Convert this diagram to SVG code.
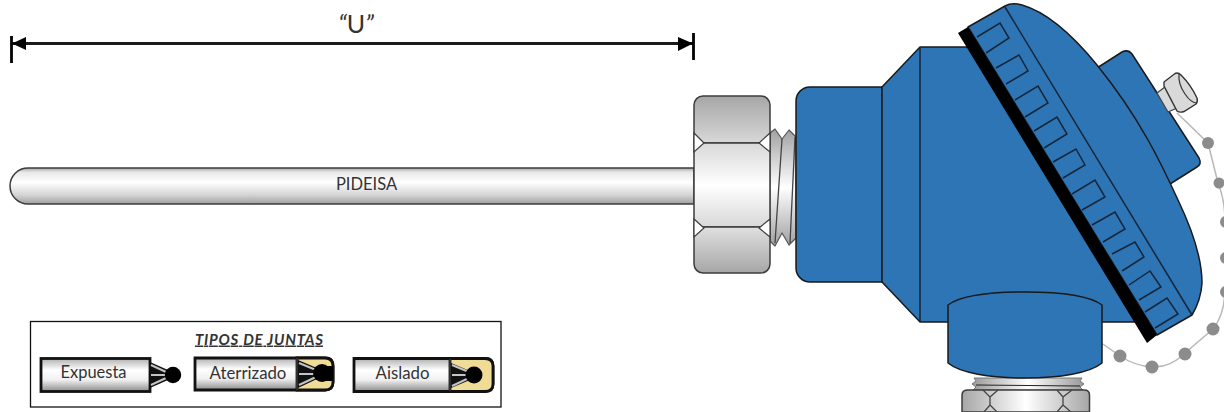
<svg xmlns="http://www.w3.org/2000/svg" width="1224" height="412" viewBox="0 0 1224 412">
<defs>
<linearGradient id="pipe" x1="0" y1="0" x2="0" y2="1"><stop offset="0" stop-color="#a8a8a8"/><stop offset=".12" stop-color="#e8e8e8"/><stop offset=".4" stop-color="#ffffff"/><stop offset=".75" stop-color="#d4d4d4"/><stop offset="1" stop-color="#a0a0a0"/></linearGradient>
<linearGradient id="nutTop" x1="0" y1="0" x2="0" y2="1"><stop offset="0" stop-color="#a6a6a6"/><stop offset="1" stop-color="#d8d8d8"/></linearGradient>
<linearGradient id="nutBot" x1="0" y1="0" x2="0" y2="1"><stop offset="0" stop-color="#e0e0e0"/><stop offset="1" stop-color="#a6a6a6"/></linearGradient>
<linearGradient id="nutMid" x1="0" y1="0" x2="0" y2="1"><stop offset="0" stop-color="#d8d8d8"/><stop offset=".5" stop-color="#ffffff"/><stop offset="1" stop-color="#d8d8d8"/></linearGradient>
<linearGradient id="thread" x1="0" y1="0" x2="0" y2="1"><stop offset="0" stop-color="#a0a0a0"/><stop offset=".5" stop-color="#ffffff"/><stop offset="1" stop-color="#a0a0a0"/></linearGradient>
<linearGradient id="nutH" x1="0" y1="0" x2="1" y2="0"><stop offset="0" stop-color="#a6a6a6"/><stop offset=".5" stop-color="#ffffff"/><stop offset="1" stop-color="#a6a6a6"/></linearGradient>
<linearGradient id="threadH" x1="0" y1="0" x2="1" y2="0"><stop offset="0" stop-color="#999"/><stop offset=".5" stop-color="#fff"/><stop offset="1" stop-color="#999"/></linearGradient>
<linearGradient id="tag" x1="0" y1="0" x2="0" y2="1"><stop offset="0" stop-color="#b0b0b0"/><stop offset=".35" stop-color="#ffffff"/><stop offset=".65" stop-color="#f0f0f0"/><stop offset="1" stop-color="#8c8c8c"/></linearGradient>
</defs>
<style>
.blue{fill:#2e75b6;stroke:#1a1a1a;stroke-width:1.5;stroke-linejoin:round}
.ln{fill:none;stroke:#14263a;stroke-width:1.5}
.sl{stroke:#3c3c3c;stroke-width:1.5;stroke-linejoin:round}
.wh{fill:#fff;stroke:#3c3c3c;stroke-width:1.2}
.t{font-family:Lato,"Open Sans","Liberation Sans",sans-serif;fill:#333}
.tag{stroke:#111;stroke-width:2.8}
.bead{fill:#8c8c8c}
.fan{fill:#111}
.wire{stroke:#c4c4c4;stroke-width:2;fill:none}
</style>
<g id="connectors">
<line x1="12" y1="43.5" x2="693" y2="43.5" stroke="#1a1a1a" stroke-width="3"/>
<line x1="11.5" y1="36" x2="11.5" y2="63" stroke="#000" stroke-width="2.8"/>
<line x1="693.5" y1="33" x2="693.5" y2="60" stroke="#000" stroke-width="2.8"/>
<path d="M12 43.500L26 37V50Z" fill="#000"/>
<path d="M693 43.500L678 37V51Z" fill="#000"/>
<text class="t" x="356" y="33" font-size="25" text-anchor="middle"><tspan font-style="italic">“</tspan>U<tspan font-style="italic">”</tspan></text>
</g>
<g id="probe">
<path d="M694 168H28A18 18 0 0 0 28 204H694Z" fill="url(#pipe)" class="sl"/>
<text class="t" x="366.500" y="190" font-size="16.500" text-anchor="middle">PIDEISA</text>
</g>
<g id="thread-side">
<path d="M770 133L775 129L782 139L789 130L796 137V238L789 245L782 233L775 246L770 241Z" fill="url(#thread)" stroke="#555" stroke-width="1.200" stroke-linejoin="round"/>
<path d="M782 139L775 243M795 137L790 243" fill="none" stroke="#444" stroke-width="1.300"/>
</g>
<g id="hex-nut">
<path d="M703 96H761A9 9 0 0 1 770 105V143H694V105A9 9 0 0 1 703 96Z" fill="url(#nutTop)" class="sl"/>
<rect x="694" y="143" width="76" height="84" fill="url(#nutMid)" class="sl"/>
<path d="M694 227H770V264A9 9 0 0 1 761 273H703A9 9 0 0 1 694 264Z" fill="url(#nutBot)" class="sl"/>
<path class="wh" d="M694 133L704 143L694 152Z"/>
<path class="wh" d="M770 133L759 143L770 152Z"/>
<path class="wh" d="M694 219L704 228L694 237Z"/>
<path class="wh" d="M770 219L759 228L770 237Z"/>
</g>
<g id="chain">
<path d="M1177 113L1208 143L1218 183Q1225 200 1225 222V292Q1224 315 1213 329L1185 353Q1170 368 1152 367Q1135 366 1120 356L1103 344" fill="none" stroke="#b8b8b8" stroke-width="1.500"/>
<circle class="bead" cx="1208" cy="143" r="6"/>
<circle class="bead" cx="1219" cy="183" r="5.500"/>
<circle class="bead" cx="1226" cy="222" r="6"/>
<circle class="bead" cx="1226" cy="258" r="6"/>
<circle class="bead" cx="1226" cy="292" r="6"/>
<circle class="bead" cx="1213" cy="329" r="6.500"/>
<circle class="bead" cx="1185" cy="354" r="6.500"/>
<circle class="bead" cx="1152" cy="367" r="6.500"/>
<circle class="bead" cx="1120" cy="356" r="6.500"/>
</g>
<g id="head">
<path class="blue" d="M882 87H810A14 14 0 0 0 796 101V268A14 14 0 0 0 810 282H882Z"/>
<path class="blue" d="M882 87L920 47H968L1157 322H920L882 282Z"/>
<line class="ln" x1="920" y1="47" x2="920" y2="322"/>
<path class="blue" d="M1097 68L1122 52Q1128 49 1132 54L1199 158Q1202 164 1197 167L1170 184Z"/>
<g id="screw">
<path d="M1157 93L1165 87L1177 108L1168 112Z" fill="#d9d9d9" stroke="#444" stroke-width="1.200"/>
<path d="M1164 82L1175 73.500Q1178 72 1181 75Q1191 85 1197 98Q1198 102 1196 104L1184 111.500Q1180 113 1177 111L1164 86Z" fill="#d9d9d9" stroke="#333" stroke-width="1.400"/>
<path d="M1179 74Q1178 84 1185 94Q1191 103 1197 103" fill="none" stroke="#333" stroke-width="1.200"/>
</g>
<path class="blue" d="M968 27L1005 6Q1012 2 1022 5C1050 13 1075 38 1097 65C1140 118 1162 165 1178 200C1190 225 1202 258 1202 283Q1201 300 1192 315L1157 335Z"/>
<line class="ln" x1="1005" y1="7" x2="1192" y2="315"/>
<path class="ln" d="M977 37L1000 23L1009 38L986 53"/>
<path class="ln" d="M996 68L1019 55L1028 71L1006 84"/>
<path class="ln" d="M1015 100L1038 86L1048 103L1025 117"/>
<path class="ln" d="M1034 131L1057 117L1067 134L1044 148"/>
<path class="ln" d="M1053 162L1076 149L1085 165L1063 178"/>
<path class="ln" d="M1072 194L1095 180L1105 197L1082 210"/>
<path class="ln" d="M1092 225L1115 212L1125 229L1103 242"/>
<path class="ln" d="M1112 254L1135 242L1144 257L1122 271"/>
<path class="ln" d="M1129 285L1150 271L1161 287L1139 300"/>
<path class="ln" d="M1145 312L1167 298L1178 314L1155 328"/>
<path d="M958 33L968 27L1157 335L1147 343Z" fill="#000"/>
</g>
<g id="lower-fitting">
<path d="M974 378H1082L1080 381L1084 384L1080 387L1083 390H973L976 387L972 384L976 381Z" fill="url(#threadH)" stroke="#777" stroke-width="1"/>
<line x1="976" y1="385" x2="1080" y2="386" stroke="#222" stroke-width="1"/>
<path d="M968 390H1084Q1089.500 390 1089.500 395V412H962V395Q962 390 968 390Z" fill="url(#nutH)" class="sl"/>
<path d="M983 390L990 397V405L984 412M998 390L990 397M990 405L997 412M1057 390L1063 397V405L1057 412M1072 390L1063 397M1063 405L1071 412" stroke="#444" stroke-width="1.300" fill="none"/>
<path class="blue" d="M948 305C960 296 990 292 1025 292C1060 292 1090 296 1102 305V363C1090 373 1060 378 1025 378C990 378 960 373 948 363Z"/>
</g>
<g id="legend">
<rect x="30.500" y="321.500" width="470.500" height="85.500" fill="#fff" stroke="#111" stroke-width="1.300"/>
<text x="259" y="344.500" font-size="15" font-style="italic" font-weight="bold" text-anchor="middle" text-decoration="underline" textLength="128" lengthAdjust="spacing" class="t">TIPOS DE JUNTAS</text>
</g>
<g id="expuesta">
<rect class="tag" x="41" y="358.500" width="109" height="33" fill="url(#tag)"/>
<path class="fan" d="M150 362L168 370V380L150 388Z"/>
<path class="wire" d="M151 365L166 372M151 375H166M151 385L166 378"/>
<circle cx="173" cy="375" r="8.200" fill="#000"/>
<text class="t" x="93.500" y="377.500" font-size="16.500" text-anchor="middle">Expuesta</text>
</g>
<g id="aterrizado">
<path class="tag" d="M195 358H325Q333 358 333 366V382Q333 390 325 390H195Z" fill="url(#tag)"/>
<path d="M297 358H325Q333 358 333 366V382Q333 390 325 390H297Z" fill="#f0dc96" stroke="#111" stroke-width="2.800"/>
<line x1="297" y1="358" x2="297" y2="390" stroke="#444" stroke-width="1.200"/>
<path class="fan" d="M298 360L317 368V379L298 388Z"/>
<path class="wire" d="M299 363L316 370M299 374H316M299 385L316 377"/>
<circle cx="322" cy="373" r="9" fill="#000"/>
<path d="M322 366H333V381H322Z" fill="#000"/>
<text class="t" x="248" y="379" font-size="16.800" text-anchor="middle">Aterrizado</text>
</g>
<g id="aislado">
<path class="tag" d="M354 358.500H485Q493 358.500 493 366V384Q493 391.500 485 391.500H354Z" fill="url(#tag)"/>
<path d="M450 358.500H485Q493 358.500 493 366V384Q493 391.500 485 391.500H450Z" fill="#f0dc96" stroke="#111" stroke-width="2.800"/>
<line x1="450" y1="359" x2="450" y2="391" stroke="#444" stroke-width="1.200"/>
<path class="fan" d="M451 363L470 371V380L451 388Z"/>
<path class="wire" d="M452 365L469 372M452 375H469M452 386L469 378"/>
<circle cx="474" cy="375" r="8.500" fill="#000"/>
<text class="t" x="402.500" y="379" font-size="16.800" text-anchor="middle">Aislado</text>
</g>
</svg>
